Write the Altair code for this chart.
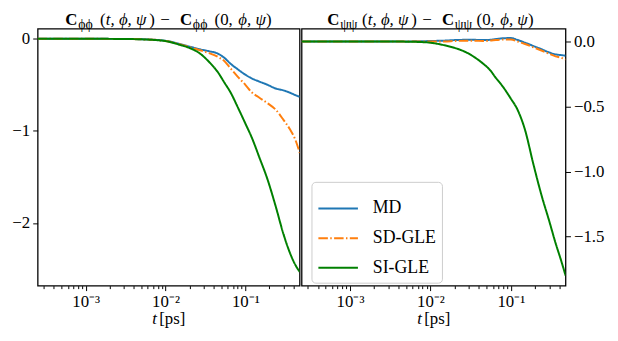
import altair as alt
import pandas as pd

FONT = "Liberation Serif"

# time grid (ps)
t = [2.5e-4, 5e-4, 1e-3, 2e-3, 3e-3, 5e-3, 7e-3, 1e-2, 1.5e-2, 2e-2, 2.7e-2, 3.5e-2,
     4.5e-2, 5.5e-2, 6.5e-2, 8e-2, 0.1, 0.12, 0.15, 0.19, 0.24, 0.3, 0.36, 0.42, 0.48]

# left panel: C_phiphi(t) - C_phiphi(0)
phi_md = [0, 0, 0, -0.001, -0.002, -0.005, -0.01, -0.022, -0.055, -0.085, -0.114, -0.135,
          -0.16, -0.21, -0.27, -0.33, -0.39, -0.43, -0.465, -0.50, -0.54, -0.56, -0.585, -0.61, -0.63]
phi_sd = [0, 0, 0, -0.001, -0.002, -0.006, -0.011, -0.024, -0.058, -0.09, -0.125, -0.155,
          -0.195, -0.245, -0.32, -0.41, -0.50, -0.58, -0.64, -0.70, -0.77, -0.88, -0.98, -1.09, -1.24]
phi_si = [0, 0, 0, -0.001, -0.002, -0.006, -0.012, -0.025, -0.065, -0.10, -0.16, -0.25,
          -0.36, -0.48, -0.58, -0.74, -0.92, -1.07, -1.29, -1.53, -1.82, -2.12, -2.32, -2.45, -2.53]

# right panel: C_psipsi(t) - C_psipsi(0)
psi_md = [0, 0, 0, 0, 0, 0, 0.001, 0.003, 0.006, 0.01, 0.012, 0.012,
          0.01, 0.012, 0.018, 0.024, 0.026, 0.012, -0.01, -0.035, -0.06, -0.085, -0.10, -0.105, -0.11]
psi_sd = [0, 0, 0, 0, 0, 0, 0, 0, 0.0, 0.003, 0.005, 0.005,
          0.003, 0.006, 0.01, 0.014, 0.015, 0.0, -0.02, -0.045, -0.07, -0.095, -0.115, -0.125, -0.14]
psi_si = [0, 0, 0, 0, 0, -0.002, -0.004, -0.01, -0.03, -0.05, -0.08, -0.12,
          -0.17, -0.22, -0.28, -0.35, -0.44, -0.52, -0.68, -0.94, -1.18, -1.38, -1.55, -1.68, -1.80]

series = ["MD", "SD-GLE", "SI-GLE"]
colors = ["#1f77b4", "#ff7f0e", "#008000"]
dashes = [[1, 0], [9.6, 2.4, 1.5, 2.4], [1, 0]]

x_major = [1e-3, 1e-2, 1e-1]
x_ticks = [3e-4, 4e-4, 5e-4, 6e-4, 7e-4, 8e-4, 9e-4, 1e-3,
           2e-3, 3e-3, 4e-3, 5e-3, 6e-3, 7e-3, 8e-3, 9e-3, 1e-2,
           2e-2, 3e-2, 4e-2, 5e-2, 6e-2, 7e-2, 8e-2, 9e-2, 1e-1,
           2e-1, 3e-1, 4e-1]
x_labels = ["10\u207b\u00b3", "10\u207b\u00b2", "10\u207b\u00b9"]

left_yticks = [0, -1, -2]
right_yticks = [0.0, -0.5, -1.0, -1.5]

X_DOMAIN = [2.5e-4, 0.478]
LEFT_DOMAIN = [-2.68, 0.11]
RIGHT_DOMAIN = [-1.876, 0.098]

W_L, W_R, H = 265, 267, 260


def frame(vals):
    rows = []
    for s, v in zip(series, vals):
        for ti, vi in zip(t, v):
            rows.append({"t": ti, "value": vi, "series": s})
    return pd.DataFrame(rows)


major_test = " || ".join(f"abs(datum.value - {m}) < 1e-9" for m in x_major)
label_expr = " : ".join(f"abs(datum.value - {m}) < 1e-9 ? '{l}'" for m, l in zip(x_major, x_labels)) + " : ''"


def xaxis():
    return alt.Axis(values=x_ticks, labelExpr=label_expr, title=None, grid=False, domain=False,
                    tickSize={"condition": {"test": major_test, "value": 5}, "value": 3},
                    tickColor="black", tickWidth=1, labelFont=FONT, labelFontSize=17,
                    labelColor="black", labelPadding=3, labelOverlap=False, labelFlush=False)


def yaxis(vals, orient, fmt):
    return alt.Axis(values=vals, orient=orient, format=fmt, title=None, grid=False, domain=False,
                    tickSize=5, tickColor="black", tickWidth=1, labelFont=FONT, labelFontSize=17,
                    labelColor="black", labelPadding=3)


def txt(s, x, y, size=17, weight="normal", style="normal", align="left"):
    return alt.Chart(pd.DataFrame({"k": [0]})).mark_text(
        text=s, font=FONT, fontSize=size, fontWeight=weight, fontStyle=style,
        align=align, baseline="alphabetic", color="black"
    ).encode(x=alt.value(x), y=alt.value(y))


def title(sub, x0):
    yb = -4
    return [
        txt("C", x0, yb, weight="bold"),
        txt(sub, x0 + 13, yb + 4, size=14),
        txt("(", x0 + 35, yb),
        txt("t, \u03d5, \u03c8", x0 + 41, yb, style="italic"),
        txt(")", x0 + 85, yb),
        txt("\u2212", x0 + 96, yb),
        txt("C", x0 + 116, yb, weight="bold"),
        txt(sub, x0 + 129, yb + 4, size=14),
        txt("(0, ", x0 + 151, yb),
        txt("\u03d5, \u03c8", x0 + 175, yb, style="italic"),
        txt(")", x0 + 203, yb),
    ]


def xtitle(x0):
    return [txt("t", x0, H + 39, style="italic"), txt("[ps]", x0 + 7, H + 39)]


def lines(df, ydom, yax, legend):
    return alt.Chart(df).mark_line(strokeWidth=2, clip=True, interpolate="monotone").encode(
        x=alt.X("t:Q", scale=alt.Scale(type="log", domain=X_DOMAIN, nice=False), axis=xaxis()),
        y=alt.Y("value:Q", scale=alt.Scale(domain=ydom, nice=False, zero=False), axis=yax),
        color=alt.Color("series:N", scale=alt.Scale(domain=series, range=colors), legend=legend),
        strokeDash=alt.StrokeDash("series:N", scale=alt.Scale(domain=series, range=dashes), legend=legend),
    )


legend = alt.Legend(orient="none", legendX=10, legendY=155, title=None, symbolType="stroke",
                    symbolSize=1600, symbolStrokeWidth=2, labelFont=FONT, labelFontSize=18,
                    labelColor="black", fillColor="white", strokeColor="#cccccc", cornerRadius=4,
                    padding=6, rowPadding=-3.5, labelOffset=14)

left = alt.layer(
    lines(frame([phi_md, phi_sd, phi_si]), LEFT_DOMAIN, yaxis(left_yticks, "left", "d"), None),
    *title("\u03d5\u03d5", 28), *xtitle(116)
).properties(width=W_L, height=H)

right = alt.layer(
    lines(frame([psi_md, psi_sd, psi_si]), RIGHT_DOMAIN, yaxis(right_yticks, "right", ".1f"), legend),
    *title("\u03c8\u03c8", 26), *xtitle(117)
).properties(width=W_R, height=H)

chart = alt.hconcat(left, right, spacing=0).resolve_scale(
    color="independent", strokeDash="independent", x="independent", y="independent"
).resolve_legend(color="independent", strokeDash="independent").properties(
    padding={"left": 3, "top": 0, "right": 5, "bottom": 2}
).configure_view(stroke="black", strokeWidth=1.3)

chart.save("out.html", embed_options={"renderer": "svg", "actions": False})
